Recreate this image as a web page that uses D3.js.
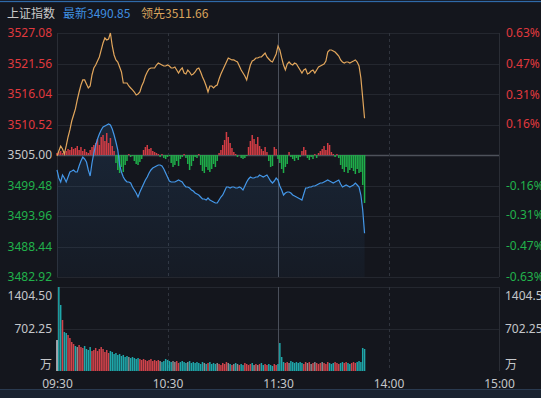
<!DOCTYPE html>
<html>
<head>
<meta charset="utf-8">
<script src="https://cdn.jsdelivr.net/npm/d3@7"></script>
<style>
    body { margin: 0; background: #14161d; }
    svg { display: block; font-family: "Noto Sans", "Noto Sans CJK SC", sans-serif; }
</style>
</head>
<body>
<div id="chart"></div>
<script>
// ---------------------------------------- data
const indexName = '上证指数';
const basePrice = 3505.00;
const priceTicks = [3527.08, 3521.56, 3516.04, 3510.52, 3505.00, 3499.48, 3493.96, 3488.44, 3482.92];
const pctTicks = [0.63, 0.47, 0.31, 0.16, -0.16, -0.31, -0.47, -0.63];
const volTicks = [1404.50, 702.25];
const timeTicks = [0, 60, 120, 180, 240];
const timeLabels = ['09:30', '10:30', '11:30', '14:00', '15:00'];

// leading index (orange), one value per minute
const leadVals = [
    3504.82, 3505.72, 3506.63, 3506.09, 3505.18, 3506.63, 3508.26, 3509.53, 3511.15, 3512.24,
    3513.33, 3514.96, 3516.40, 3517.67, 3518.58, 3518.58, 3517.85, 3517.13, 3517.49, 3519.48,
    3520.75, 3521.29, 3522.01, 3522.74, 3524.01, 3525.27, 3526.18, 3525.82, 3526.00, 3527.08,
    3524.73, 3523.10, 3522.20, 3521.83, 3520.93, 3520.02, 3518.03, 3518.03, 3518.03, 3517.49,
    3517.13, 3516.77, 3516.40, 3515.86, 3516.04, 3516.40, 3517.49, 3518.21, 3519.30, 3520.02,
    3520.57, 3520.75, 3520.75, 3520.75, 3521.29, 3521.65, 3521.47, 3521.29, 3521.11, 3521.11,
    3521.29, 3521.11, 3520.75, 3520.75, 3520.93, 3520.39, 3519.84, 3520.39, 3520.75, 3519.84,
    3519.66, 3520.39, 3520.02, 3519.48, 3519.66, 3520.02, 3520.57, 3520.75, 3520.02, 3519.12,
    3518.39, 3517.49, 3516.40, 3517.49, 3517.49, 3517.13, 3517.49, 3517.67, 3518.76, 3519.66,
    3520.39, 3521.11, 3521.83, 3522.56, 3522.38, 3522.20, 3522.20, 3522.01, 3521.83, 3521.11,
    3520.39, 3519.84, 3519.30, 3518.58, 3520.02, 3521.29, 3522.01, 3522.20, 3522.56, 3522.56,
    3522.74, 3522.74, 3523.10, 3523.46, 3522.74, 3522.38, 3522.01, 3521.83, 3522.56, 3523.28,
    3524.73, 3524.00, 3522.56, 3521.29, 3520.39, 3521.47, 3521.83, 3521.47, 3521.29, 3521.65,
    3521.47, 3520.93, 3520.39, 3519.84, 3520.39, 3520.57, 3519.66, 3519.84, 3520.20, 3520.39,
    3519.84, 3520.39, 3520.93, 3521.11, 3521.29, 3521.47, 3522.01, 3523.64, 3524.00, 3524.00,
    3523.82, 3523.64, 3523.28, 3522.92, 3522.20, 3521.83, 3521.65, 3521.83, 3521.83, 3521.65,
    3521.83, 3522.01, 3522.20, 3521.83, 3521.11, 3518.94, 3515.32, 3511.66
];

// latest index (blue)
const lastVals = [
    3502.29, 3500.84, 3500.11, 3501.38, 3500.84, 3500.11, 3501.02, 3501.92, 3502.10, 3502.29,
    3501.92, 3501.92, 3503.01, 3503.91, 3504.64, 3504.28, 3503.73, 3502.29, 3501.20, 3503.55,
    3505.36, 3506.81, 3507.90, 3508.80, 3509.53, 3510.07, 3510.25, 3510.43, 3510.61, 3510.43,
    3509.71, 3508.62, 3507.35, 3505.91, 3503.19, 3501.92, 3501.02, 3500.47, 3500.11, 3500.11,
    3499.93, 3499.21, 3498.66, 3498.12, 3497.40, 3498.30, 3499.03, 3499.75, 3500.47, 3501.02,
    3501.74, 3502.29, 3502.65, 3502.83, 3503.01, 3503.19, 3503.19, 3503.01, 3502.47, 3501.74,
    3501.02, 3500.29, 3500.11, 3500.11, 3500.11, 3500.29, 3500.47, 3500.29, 3500.11, 3499.57,
    3499.21, 3499.21, 3499.03, 3498.66, 3498.48, 3498.12, 3497.94, 3497.76, 3497.40, 3497.04,
    3497.04, 3496.85, 3497.22, 3496.85, 3496.67, 3496.49, 3496.31, 3496.31, 3496.85, 3497.40,
    3497.76, 3498.48, 3499.21, 3499.21, 3499.03, 3499.21, 3499.21, 3499.03, 3499.03, 3499.21,
    3499.03, 3498.66, 3499.39, 3500.11, 3500.66, 3501.02, 3500.84, 3500.84, 3501.02, 3501.02,
    3501.38, 3501.20, 3501.02, 3501.20, 3501.38, 3500.84, 3500.29, 3499.93, 3500.29, 3500.84,
    3500.47, 3499.39, 3498.66, 3497.76, 3498.12, 3498.30, 3498.30, 3498.12, 3497.76, 3497.58,
    3497.40, 3497.22, 3497.04, 3496.85, 3497.94, 3499.03, 3499.03, 3499.21, 3499.21, 3499.39,
    3499.39, 3499.57, 3499.75, 3499.93, 3499.93, 3500.11, 3500.29, 3500.47, 3500.29, 3500.11,
    3499.93, 3500.11, 3500.29, 3500.47, 3499.75, 3499.21, 3499.39, 3499.57, 3499.39, 3499.21,
    3499.39, 3499.57, 3499.93, 3499.57, 3499.21, 3497.76, 3495.04, 3490.85
];

// red / green strength bars around the base line
const forceVals = [
    2, 3, 4, 2, 3,
    4, 6, 5, 8, 6, 7, 9, 5, 8, 4, 6, 3, 2, 5, 8, 10,
    12, 16, 10, 18, 20, 14, 22, 12, 17, 9, 4,
    -8, -15, -18, -12, -17, -10, -6,
    1, -2, -1,
    -6, -9, -10, -7, -4,
    5, 8, 10, 6, 7, 4, 3,
    2, 1, -2, 1, -3,
    -4, -2, -1,
    -8, -12, -10, -6, -11, -4,
    -2, 1, -3,
    -9, -15, -11, -6,
    -2, -3, 1,
    -10, -16, -18, -12, -15, -17, -14, -9, -12, -6,
    2, 5,
    10, 15, 23, 18, 12, 7,
    3, 1, -2, 0,
    -3, -4, -3, -1,
    8, 14, 20, 16, 11, 18,
    9, 6, 4, 8, 3,
    -6, -12, -11, 8, 6, -4, -8,
    -14, -18, -12, -9,
    3, -2, -4,
    -6, -3, -5, -2,
    4, 8, 5,
    -3, -5, -2, -4,
    1, -3, 2,
    4, 6, 9, 5, 12, 10, 3,
    1, -2, 1, -3,
    -10, -14, -17, -12, -18, -15, -13, -16, -19, -14, -18, -17, -30, -48
];

// volume, 万
const volVals = [
    518, 1404, 1104, 853, 652, 635, 602, 552, 485, 451,
    418, 401, 435, 401, 385, 418, 368, 351, 401, 334,
    351, 385, 334, 368, 401, 368, 318, 351, 301, 334,
    318, 284, 301, 268, 284, 251, 268, 234, 251, 234,
    217, 234, 217, 201, 217, 201, 184, 201, 184, 167,
    184, 201, 167, 184, 167, 184, 167, 150, 167, 201,
    184, 167, 150, 167, 150, 167, 134, 150, 167, 150,
    134, 150, 167, 134, 150, 134, 150, 134, 117, 150,
    134, 117, 134, 150, 117, 134, 117, 134, 117, 100,
    134, 117, 150, 134, 117, 100, 117, 134, 117, 100,
    117, 100, 134, 117, 100, 117, 134, 100, 117, 100,
    117, 134, 100, 117, 100, 117, 100, 84, 117, 100,
    117, 468, 234, 150, 134, 150, 134, 167, 150, 134,
    150, 134, 150, 134, 117, 150, 134, 150, 117, 134,
    150, 134, 117, 134, 150, 134, 117, 150, 134, 117,
    134, 150, 134, 117, 134, 150, 134, 150, 134, 117,
    134, 150, 134, 150, 167, 150, 385, 368
];

//----------------------------------------
// SVG setup
let width = 541,
    height = 398;

let svg = d3.select('#chart').append('svg')
    .attr('width', width)
    .attr('height', height);

svg.append('rect')
    .attr('width', width).attr('height', height)
    .attr('fill', '#14161d');

// top and bottom strips of the app window
svg.append('rect').attr('x', 0).attr('y', 0).attr('width', width).attr('height', 3).attr('fill', '#172030');
svg.append('line').attr('x1', 0).attr('x2', width).attr('y1', 1.5).attr('y2', 1.5)
    .style('stroke', '#2f6aa8').style('stroke-width', 1);
svg.append('rect').attr('x', 0).attr('y', 389).attr('width', width).attr('height', 9).attr('fill', '#1a2330');
svg.append('line').attr('x1', 0).attr('x2', width).attr('y1', 389.5).attr('y2', 389.5)
    .style('stroke', '#2a3a50');

//----------------------------------------
// Scales
let x = d3.scaleLinear().domain([0, 240]).range([57, 499]);
let y = d3.scaleLinear().domain([3482.92, 3527.08]).range([277, 33]);
let yPct = d3.scaleLinear().domain([-0.63, 0.63]).range([277, 33]);
let yForce = d3.scaleLinear().domain([-50, 50]).range([y(basePrice) + 50, y(basePrice) - 50]);
let yVol = d3.scaleLinear().domain([0, 1404.5]).range([371, 287]);

let grid = svg.append('g');

// horizontal grid, price panel
grid.selectAll('.hgrid')
    .data(priceTicks)
    .enter()
    .append('line')
    .attr('x1', x(0)).attr('x2', x(240))
    .attr('y1', d => Math.round(y(d)) + 0.5)
    .attr('y2', d => Math.round(y(d)) + 0.5)
    .style('stroke', d => d === basePrice ? '#4e525b' : '#24272f')
    .style('stroke-width', d => d === basePrice ? 1.5 : 1);

// horizontal grid, volume panel
grid.selectAll('.vgrid')
    .data(volTicks)
    .enter()
    .append('line')
    .attr('x1', x(0)).attr('x2', x(240))
    .attr('y1', d => Math.round(yVol(d)) + 0.5)
    .attr('y2', d => Math.round(yVol(d)) + 0.5)
    .style('stroke', '#24272f');

// vertical grid for both panels
[[y(priceTicks[0]), y(priceTicks[priceTicks.length - 1])], [yVol(1404.5), yVol(0)]].forEach(function(r) {
    grid.selectAll(null)
        .data(timeTicks)
        .enter()
        .append('line')
        .attr('x1', d => Math.round(x(d)) + 0.5)
        .attr('x2', d => Math.round(x(d)) + 0.5)
        .attr('y1', r[0]).attr('y2', r[1])
        .style('stroke', d => d === 120 ? '#4a4f5a' : (d === 0 || d === 240 ? '#2a2d35' : '#30343d'))
        .style('stroke-dasharray', d => (d === 60 || d === 180) ? '3,3' : null);
});

//----------------------------------------
// area under the latest line
let defs = svg.append('defs');
let grad = defs.append('linearGradient').attr('id', 'blueFade')
    .attr('x1', 0).attr('x2', 0).attr('y1', 0).attr('y2', 1);
grad.append('stop').attr('offset', '0%').attr('stop-color', '#3d8fe0').attr('stop-opacity', 0.14);
grad.append('stop').attr('offset', '100%').attr('stop-color', '#3d8fe0').attr('stop-opacity', 0.04);

svg.append('path')
    .datum(lastVals)
    .attr('d', d3.area()
        .x((d, i) => x(i))
        .y0(y(priceTicks[priceTicks.length - 1]))
        .y1(d => y(d)))
    .attr('fill', 'url(#blueFade)');

// strength bars
svg.selectAll('.force')
    .data(forceVals)
    .enter()
    .append('rect')
    .attr('x', (d, i) => x(i) - 0.75)
    .attr('width', 1.5)
    .attr('y', d => Math.min(yForce(d), yForce(0)))
    .attr('height', d => Math.abs(yForce(d) - yForce(0)))
    .attr('fill', d => d >= 0 ? '#d23c44' : '#1fae4a');

// lines
svg.append('path')
    .datum(leadVals)
    .attr('d', d3.line().x((d, i) => x(i)).y(d => y(d)))
    .style('fill', 'none')
    .style('stroke', '#e2a65c')
    .style('stroke-width', 1.2);

svg.append('path')
    .datum(lastVals)
    .attr('d', d3.line().x((d, i) => x(i)).y(d => y(d)))
    .style('fill', 'none')
    .style('stroke', '#4497e8')
    .style('stroke-width', 1.2);

// volume bars, coloured by the minute's move
svg.selectAll('.vol')
    .data(volVals)
    .enter()
    .append('rect')
    .attr('x', (d, i) => x(i) - 0.75)
    .attr('width', 1.5)
    .attr('y', d => yVol(d))
    .attr('height', d => yVol(0) - yVol(d))
    .attr('fill', function(d, i) {
        if (i === 0) return '#c9cdd3';
        let chg = lastVals[i] - lastVals[i - 1];
        if (chg > 0) return '#d0434b';
        if (chg < 0) return '#1fa7aa';
        return '#8a8c90';
    });

//----------------------------------------
// Axes
function colorFor(v) {
    if (v > 0) return '#e0393e';
    if (v < 0) return '#21b14b';
    return '#c8c8c8';
}

let leftAxis = svg.append('g')
    .attr('transform', 'translate(57,0)')
    .call(d3.axisLeft(y).tickValues(priceTicks).tickSize(0).tickPadding(5).tickFormat(d3.format('.2f')));
leftAxis.select('.domain').remove();
leftAxis.selectAll('text')
    .style('font-size', '12px')
    .style('font-family', '"Noto Sans", sans-serif')
    .attr('fill', d => colorFor(d - basePrice));

let rightAxis = svg.append('g')
    .attr('transform', 'translate(499,0)')
    .call(d3.axisRight(yPct).tickValues(pctTicks).tickSize(0).tickPadding(7).tickFormat(d => d.toFixed(2) + '%'));
rightAxis.select('.domain').remove();
rightAxis.selectAll('text')
    .style('font-size', '12px')
    .style('font-family', '"Noto Sans", sans-serif')
    .attr('fill', d => colorFor(d));

let volLeft = svg.append('g')
    .attr('transform', 'translate(57,0)')
    .call(d3.axisLeft(yVol).tickValues(volTicks).tickSize(0).tickPadding(5).tickFormat(d3.format('.2f')));
let volRight = svg.append('g')
    .attr('transform', 'translate(499,0)')
    .call(d3.axisRight(yVol).tickValues(volTicks).tickSize(0).tickPadding(6).tickFormat(d3.format('.2f')));
[volLeft, volRight].forEach(function(a) {
    a.select('.domain').remove();
    a.selectAll('text')
        .style('font-size', '12px')
        .style('font-family', '"Noto Sans", sans-serif')
        .attr('fill', '#c4c6ca')
        .attr('dy', d => d === 1404.5 ? '1.02em' : '0.32em');
});

svg.append('text').attr('x', 52).attr('y', 369).attr('text-anchor', 'end')
    .style('font-size', '12px').style('font-family', '"Noto Sans CJK SC", sans-serif')
    .attr('fill', '#c4c6ca').text('万');
svg.append('text').attr('x', 505).attr('y', 369)
    .style('font-size', '12px').style('font-family', '"Noto Sans CJK SC", sans-serif')
    .attr('fill', '#c4c6ca').text('万');

let timeAxis = svg.append('g')
    .attr('transform', 'translate(0,374)')
    .call(d3.axisBottom(x).tickValues(timeTicks).tickSize(0).tickPadding(5).tickFormat((d, i) => timeLabels[i]));
timeAxis.select('.domain').remove();
timeAxis.selectAll('text')
    .style('font-size', '12px')
    .style('font-family', '"Noto Sans", sans-serif')
    .attr('fill', '#c4c6ca');

//----------------------------------------
// Header
let header = svg.append('text')
    .attr('x', 7).attr('y', 18)
    .style('font-size', '12px')
    .style('font-family', '"Noto Sans CJK SC", sans-serif');
header.append('tspan').attr('fill', '#c9c9c9').text(indexName);
header.append('tspan').attr('x', 63).attr('fill', '#3f8fe0')
    .text('最新' + lastVals[lastVals.length - 1].toFixed(2));
header.append('tspan').attr('x', 141).attr('fill', '#d9a35c')
    .text('领先' + leadVals[leadVals.length - 1].toFixed(2));
</script>
</body>
</html>
